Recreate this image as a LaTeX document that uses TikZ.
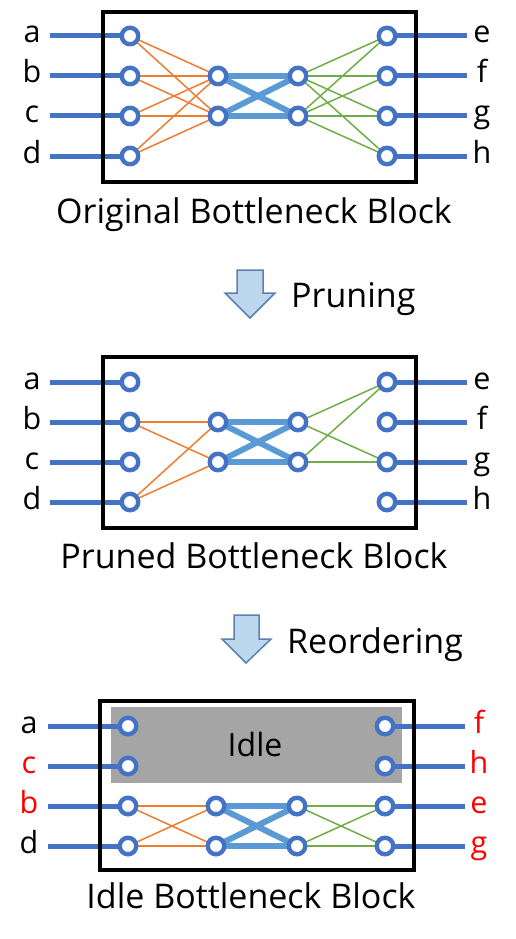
\documentclass[tikz,border=0pt]{standalone}
\usepackage{fontspec}
\setmainfont{Open Sans}
\definecolor{nblue}{HTML}{4472C4}
\definecolor{lblue}{HTML}{5B9BD5}
\definecolor{orng}{HTML}{ED7D31}
\definecolor{grn}{HTML}{70AD47}
\definecolor{idlegray}{HTML}{A5A5A5}
\definecolor{arrfill}{HTML}{BDD7EE}
\definecolor{arrdraw}{HTML}{5A82AD}
\definecolor{lred}{HTML}{FF0000}
\pgfdeclarelayer{bg}
\pgfsetlayers{bg,main}
\begin{document}
\begin{tikzpicture}[x=1pt,y=-1pt,
  blk/.style={draw=black,line width=4.5pt},
  nd/.style={circle,draw=nblue,fill=white,line width=4.4pt,minimum size=16.5pt,inner sep=0pt},
  io/.style={draw=nblue,line width=5pt},
  ol/.style={draw=orng,line width=1.5pt},
  gl/.style={draw=grn,line width=1.5pt},
  cl/.style={draw=lblue,line width=6pt},
  lbl/.style={font=\fontsize{30.5}{36}\selectfont,anchor=base,inner sep=0pt},
  ttl/.style={font=\fontsize{34}{40}\selectfont,anchor=base,inner sep=0pt},
  barrow/.style={fill=arrfill,draw=arrdraw,line width=1.5pt,line join=miter}
]
\useasboundingbox (0,0) rectangle (515,939);

% ---------------- Block 1 ----------------
\draw[blk] (103,12) rectangle (416,182);
\foreach \r/\y/\ll/\rl in {1/36/a/e,2/76/b/f,3/116/c/g,4/156/d/h}{
  \coordinate (s1\r) at (50,\y);
  \coordinate (t1\r) at (467,\y);
  \node[nd] (L1\r) at (130,\y) {};
  \node[nd] (R1\r) at (387,\y) {};
  \node[lbl] (la1\r) at (32,\y+7) {\ll};
  \node[lbl] (lb1\r) at (482,\y+7) {\rl};
}
\node[nd] (M1a) at (218,76) {};
\node[nd] (M1b) at (218,116) {};
\node[nd] (N1a) at (298,76) {};
\node[nd] (N1b) at (298,116) {};
\begin{pgfonlayer}{bg}
\foreach \r in {1,2,3,4}{
  \draw[io] (s1\r) -- (L1\r.center);
  \draw[io] (R1\r.center) -- (t1\r);
  \draw[ol] (L1\r.center) -- (M1a.center);
  \draw[ol] (L1\r.center) -- (M1b.center);
  \draw[gl] (N1a.center) -- (R1\r.center);
  \draw[gl] (N1b.center) -- (R1\r.center);
}
\draw[cl] (M1a.center) -- (N1a.center);
\draw[cl] (M1a.center) -- (N1b.center);
\draw[cl] (M1b.center) -- (N1a.center);
\draw[cl] (M1b.center) -- (N1b.center);
\end{pgfonlayer}
\node[ttl] (title1) at (254,223) {Original Bottleneck Block};

% arrow 1
\draw[barrow] (225,293) -- (237,293) -- (237,270) -- (263,270) -- (263,293) -- (275,293) -- (250,318) -- cycle;
\node[ttl,anchor=base west] (prun) at (291,307) {Pruning};

% ---------------- Block 2 ----------------
\draw[blk] (103,357) rectangle (416,528);
\foreach \r/\y/\ll/\rl in {1/382/a/e,2/422/b/f,3/462/c/g,4/502/d/h}{
  \coordinate (s2\r) at (50,\y);
  \coordinate (t2\r) at (467,\y);
  \node[nd] (L2\r) at (130,\y) {};
  \node[nd] (R2\r) at (387,\y) {};
  \node[lbl] (la2\r) at (32,\y+7) {\ll};
  \node[lbl] (lb2\r) at (482,\y+7) {\rl};
}
\node[nd] (M2a) at (218,422) {};
\node[nd] (M2b) at (218,462) {};
\node[nd] (N2a) at (298,422) {};
\node[nd] (N2b) at (298,462) {};
\begin{pgfonlayer}{bg}
\foreach \r in {1,2,3,4}{
  \draw[io] (s2\r) -- (L2\r.center);
  \draw[io] (R2\r.center) -- (t2\r);
}
\foreach \r in {2,4}{
  \draw[ol] (L2\r.center) -- (M2a.center);
  \draw[ol] (L2\r.center) -- (M2b.center);
}
\foreach \r in {1,3}{
  \draw[gl] (N2a.center) -- (R2\r.center);
  \draw[gl] (N2b.center) -- (R2\r.center);
}
\draw[cl] (M2a.center) -- (N2a.center);
\draw[cl] (M2a.center) -- (N2b.center);
\draw[cl] (M2b.center) -- (N2a.center);
\draw[cl] (M2b.center) -- (N2b.center);
\end{pgfonlayer}
\node[ttl] (title2) at (254,568) {Pruned Bottleneck Block};

% arrow 2
\draw[barrow] (222,639) -- (234,639) -- (234,615) -- (259,615) -- (259,639) -- (271,639) -- (246,663) -- cycle;
\node[ttl,anchor=base west] (reord) at (287,653) {Reordering};

% ---------------- Block 3 ----------------
\draw[blk] (100,701) rectangle (414,870);
\begin{pgfonlayer}{bg}
\fill[idlegray] (111,707) rectangle (402,783);
\end{pgfonlayer}
\node[ttl,font=\fontsize{32}{38}\selectfont] (idle) at (255,756) {Idle};
\foreach \r/\y/\ll/\lc/\rl/\rc in {1/726/a/black/f/lred,2/766/c/lred/h/lred,3/806/b/lred/e/lred,4/846/d/black/g/lred}{
  \coordinate (s3\r) at (48,\y);
  \coordinate (t3\r) at (465,\y);
  \node[nd] (L3\r) at (128,\y) {};
  \node[nd] (R3\r) at (385,\y) {};
  \node[lbl,text=\lc] (la3\r) at (29,\y+7) {\ll};
  \node[lbl,text=\rc] (lb3\r) at (479,\y+7) {\rl};
}
\node[nd] (M3a) at (216,806) {};
\node[nd] (M3b) at (216,846) {};
\node[nd] (N3a) at (297,806) {};
\node[nd] (N3b) at (297,846) {};
\begin{pgfonlayer}{bg}
\foreach \r in {1,2,3,4}{
  \draw[io] (s3\r) -- (L3\r.center);
  \draw[io] (R3\r.center) -- (t3\r);
}
\foreach \r in {3,4}{
  \draw[ol] (L3\r.center) -- (M3a.center);
  \draw[ol] (L3\r.center) -- (M3b.center);
  \draw[gl] (N3a.center) -- (R3\r.center);
  \draw[gl] (N3b.center) -- (R3\r.center);
}
\draw[cl] (M3a.center) -- (N3a.center);
\draw[cl] (M3a.center) -- (N3b.center);
\draw[cl] (M3b.center) -- (N3a.center);
\draw[cl] (M3b.center) -- (N3b.center);
\end{pgfonlayer}
\node[ttl] (title3) at (251,908) {Idle Bottleneck Block};
\end{tikzpicture}
\end{document}
